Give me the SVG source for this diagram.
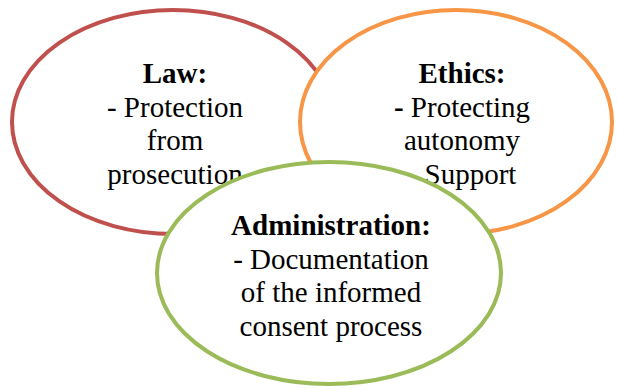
<svg xmlns="http://www.w3.org/2000/svg" width="617" height="389" viewBox="0 0 617 389">
<style>
text{font-family:"Liberation Serif","Times New Roman",serif;font-size:29px;fill:#000;text-anchor:middle}
.b{font-weight:bold}
ellipse{fill:#fff;stroke-width:4}
</style>
<rect width="617" height="389" fill="#fff"/>
<g id="law">
<ellipse cx="173" cy="122" rx="161" ry="112" stroke="#C0504D"/>
<text x="175" y="83" class="b">Law:</text>
<text x="175" y="117">- Protection</text>
<text x="175" y="150">from</text>
<text x="175" y="184">prosecution</text>
</g>
<g id="ethics">
<ellipse cx="456" cy="122" rx="156" ry="112" stroke="#F79646"/>
<text x="462" y="83" class="b">Ethics:</text>
<text x="462" y="117"><tspan class="b">-</tspan> Protecting</text>
<text x="462" y="150">autonomy</text>
<text x="462" y="184">- Support</text>
</g>
<g id="administration">
<ellipse cx="329" cy="273" rx="172" ry="111" stroke="#9BBB59"/>
<text x="331" y="235" class="b">Administration:</text>
<text x="331" y="269">- Documentation</text>
<text x="331" y="302">of the informed</text>
<text x="331" y="336">consent process</text>
</g>
<g id="connectors"/>
</svg>
